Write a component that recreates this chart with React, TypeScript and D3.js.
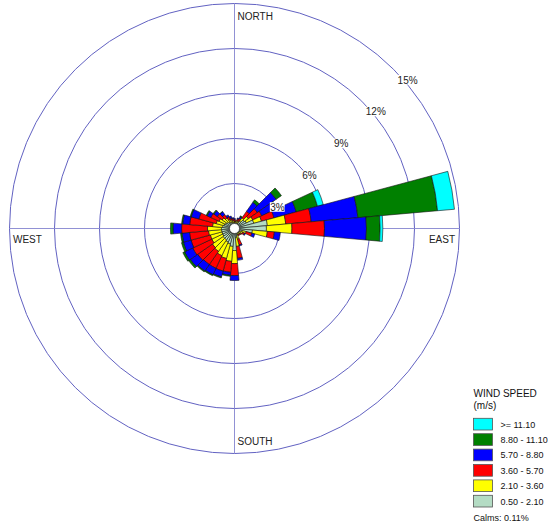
import React from "react";
import * as d3 from "d3";

// Direction (compass degrees, bar centres)
const directions = [0, 10, 20, 30, 40, 50, 60, 70, 80, 90, 100, 110, 120, 130, 140, 150, 160, 170,
  180, 190, 200, 210, 220, 230, 240, 250, 260, 270, 280, 290, 300, 310, 320, 330, 340, 350];

// Frequency (%) per speed class, per direction
const s050_210 = [0.37, 0.37, 0.40, 0.40, 0.60, 0.80, 0.87, 1.33, 2.20, 2.13, 1.20, 0.53, 0.40, 0.40, 0.37, 0.37, 0.47, 0.60,
  1.47, 1.20, 1.07, 1.00, 0.93, 0.93, 0.87, 0.87, 0.87, 0.87, 0.80, 0.73, 0.67, 0.60, 0.53, 0.47, 0.40, 0.40];
const s210_360 = [0.10, 0.10, 0.13, 0.13, 0.27, 0.33, 0.47, 0.53, 1.23, 1.70, 1.00, 0.27, 0.20, 0.13, 0.10, 0.10, 0.27, 0.60,
  0.87, 1.00, 1.00, 1.00, 0.93, 0.87, 0.80, 0.80, 0.87, 0.93, 0.67, 0.53, 0.47, 0.40, 0.33, 0.20, 0.20, 0.13];
const s360_570 = [0.13, 0.07, 0.13, 0.20, 0.53, 0.73, 0.67, 0.87, 1.70, 2.17, 0.47, 0.40, 0.13, 0.07, 0.07, 0.07, 0.40, 0.80,
  0.80, 0.73, 0.87, 0.93, 1.07, 1.20, 1.40, 1.33, 1.27, 1.73, 1.53, 1.20, 0.60, 0.40, 0.27, 0.20, 0.13, 0.13];
const s570_880 = [0.07, 0, 0.07, 0.13, 0.73, 1.53, 1.00, 1.53, 3.13, 2.80, 0.40, 0.20, 0.07, 0, 0, 0, 0.07, 0.13,
  0.33, 0.20, 0.40, 0.47, 0.53, 0.60, 0.60, 0.53, 0.50, 0.57, 0.47, 0.53, 0.27, 0.27, 0.23, 0.13, 0.13, 0.07];
const s880_1110 = [0, 0, 0, 0.07, 0.20, 0.43, 0.13, 1.47, 5.33, 0.91, 0, 0, 0, 0, 0, 0, 0, 0,
  0, 0.07, 0.07, 0.07, 0.07, 0.13, 0.13, 0.13, 0.10, 0.17, 0.07, 0.07, 0.07, 0.07, 0.03, 0, 0, 0];
const s1110 = [0, 0, 0, 0, 0, 0, 0, 0.40, 1.13, 0.18, 0, 0, 0, 0, 0, 0, 0, 0,
  0, 0, 0, 0, 0, 0, 0, 0, 0, 0, 0, 0, 0, 0, 0, 0, 0, 0];

const ringTicks = [3, 6, 9, 12, 15];
const legendLabels = [">= 11.10", "8.80 - 11.10", "5.70 - 8.80", "3.60 - 5.70", "2.10 - 3.60", "0.50 - 2.10"];
const legendTitle = ["WIND SPEED", "(m/s)"];
const calmsText = "Calms: 0.11%";
const compassLabels = ["NORTH", "EAST", "SOUTH", "WEST"];

export default function App() {
  const W = 550, H = 529;
  const cx = 234.5, cy = 228.5;
  const maxPct = 15;
  const R = 225;
  const hole = 5;
  const r = d3.scaleLinear().domain([0, maxPct]).range([0, R]);
  const arc = d3.arc<any>();

  const seriesInnerToOuter = [s050_210, s210_360, s360_570, s570_880, s880_1110, s1110];
  const colorsInnerToOuter = ["#B4DCC4", "#FFFF00", "#FF0000", "#0000FF", "#008000", "#00FFFF"];
  const legendColors = colorsInnerToOuter.slice().reverse();

  const bars: any[] = [];
  directions.forEach((dir, i) => {
    let cum = 0;
    seriesInnerToOuter.forEach((s, k) => {
      const v = s[i];
      if (!(v > 0)) return;
      const inner = Math.max(hole, r(cum));
      cum += v;
      const outer = r(cum);
      if (outer <= inner) return;
      const a0 = ((dir - 5) * Math.PI) / 180;
      const a1 = ((dir + 5) * Math.PI) / 180;
      bars.push(
        <path
          key={`${dir}-${k}`}
          d={arc({ innerRadius: inner, outerRadius: outer, startAngle: a0, endAngle: a1 }) as string}
          fill={colorsInnerToOuter[k]}
          stroke="#111"
          strokeWidth={0.6}
          strokeLinejoin="miter"
        />
      );
    });
  });

  const c45 = Math.cos(Math.PI / 4);
  const fontFamily = "'Liberation Sans', Arial, Helvetica, sans-serif";

  return (
    <svg
      width={W}
      height={H}
      viewBox={`0 0 ${W} ${H}`}
      style={{ position: "absolute", left: 0, top: 0, background: "#fff", fontFamily }}
    >
      <rect x={0} y={0} width={W} height={H} fill="#fff" />
      <g transform={`translate(${cx},${cy})`}>
        {ringTicks.map((t) => (
          <circle key={t} r={r(t)} fill="none" stroke="#6262C2" strokeWidth={1} />
        ))}
        <line x1={-R} x2={R} y1={0} y2={0} stroke="#8585CF" strokeWidth={0.9} />
        <line x1={0} x2={0} y1={-R} y2={R} stroke="#8585CF" strokeWidth={0.9} />
        {bars}
        <circle r={hole} fill="#fff" stroke="#222" strokeWidth={0.6} />
        {ringTicks.map((t) => {
          const p = r(t);
          const x = p * c45 + 4;
          const yTop = -p * c45 + 6.5;
          const label = `${t}%`;
          const w = (label.length - 1) * 5.56 + 8.3;
          return (
            <g key={`l${t}`}>
              <rect x={x - 0.5} y={yTop - 1} width={w + 1} height={9.6} fill="#fff" />
              <text x={x} y={yTop + 7.6} fontSize={10} fill="#222">
                {label}
              </text>
            </g>
          );
        })}
        <text x={3} y={-R + 16} fontSize={10} fill="#222">{compassLabels[0]}</text>
        <text x={R - 4.5} y={14} fontSize={10} fill="#222" textAnchor="end">{compassLabels[1]}</text>
        <text x={3} y={R - 9} fontSize={10} fill="#222">{compassLabels[2]}</text>
        <text x={-R + 3.5} y={14} fontSize={10} fill="#222">{compassLabels[3]}</text>
      </g>

      <g fontSize={10} fill="#111">
        <text x={473.5} y={396.8}>{legendTitle[0]}</text>
        <text x={473.5} y={409}>{legendTitle[1]}</text>
        {legendLabels.map((lab, i) => {
          const y = 418.3 + i * 15.4;
          return (
            <g key={lab}>
              <rect x={473.5} y={y} width={19} height={11.7} fill={legendColors[i]} stroke="#555" strokeWidth={0.8} />
              <text x={500.5} y={y + 9.2} fontSize={9}>{lab}</text>
            </g>
          );
        })}
        <text x={473.5} y={520.5} fontSize={9}>{calmsText}</text>
      </g>
    </svg>
  );
}
